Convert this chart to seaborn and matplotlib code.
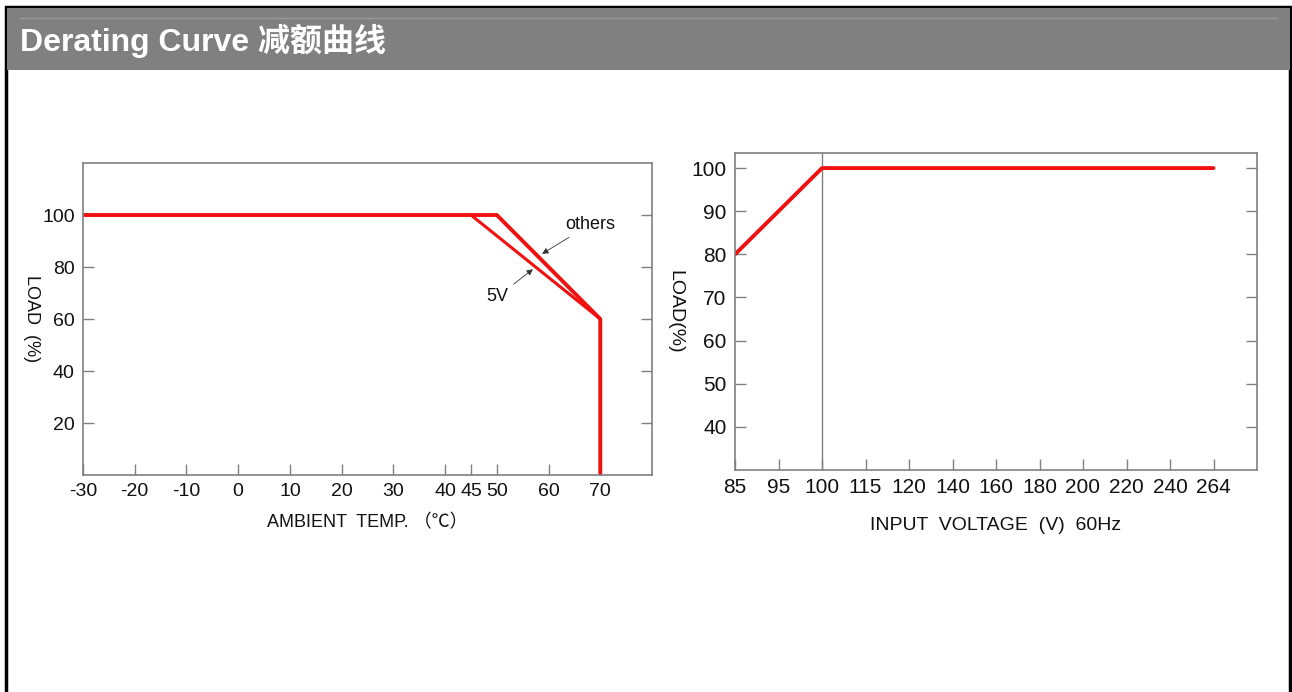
import matplotlib
matplotlib.use("Agg")
import matplotlib.pyplot as plt
import seaborn as sns
import pandas as pd
from matplotlib.patches import Rectangle
from matplotlib.lines import Line2D

# 温度减额数据
temp_others = [-30, 50, 70, 70]
load_others = [100, 100, 60, 0]
temp_5v = [45, 70]
load_5v = [100, 60]
temp_ticks = [-30, -20, -10, 0, 10, 20, 30, 40, 45, 50, 60, 70]
temp_load_ticks = [20, 40, 60, 80, 100]

# 输入电压减额数据 (横轴按刻度等距排布)
volt_labels = ['85', '95', '100', '115', '120', '140', '160', '180', '200', '220', '240', '264']
volt_points = ['85', '100', '264']
volt_load = [80, 100, 100]
volt_load_ticks = [40, 50, 60, 70, 80, 90, 100]

sns.set_theme(style="white")
plt.rcParams['font.family'] = ['Liberation Sans', 'Noto Sans CJK SC', 'DejaVu Sans']
plt.rcParams['text.color'] = '#111111'
plt.rcParams['axes.labelcolor'] = '#111111'

W, H = 1292, 692
fig = plt.figure(figsize=(W / 100, H / 100), dpi=100)

# 边框和标题栏 (底边在画面外)
fig.patches.append(Rectangle((6 / W, -0.05), (1284 / W), 1.05 - 7 / H, transform=fig.transFigure,
                             fill=False, edgecolor='black', linewidth=2.5, zorder=0))
fig.patches.append(Rectangle((7 / W, 1 - 70 / H), 1283 / W, 62 / H, transform=fig.transFigure,
                             facecolor='#808080', edgecolor='none', zorder=1))
fig.lines.append(Line2D([20 / W, 1277 / W], [1 - 18 / H, 1 - 18 / H], transform=fig.transFigure,
                        color='#9a9a9a', linewidth=1, zorder=2))
fig.text(20 / W, 1 - 41 / H, 'Derating Curve 减额曲线', color='white', fontsize=23,
         fontweight='bold', va='center', ha='left',
         family=['Liberation Sans', 'Noto Sans CJK SC'])

spine_c = '#808080'
red = '#f01010'


def style_axes(ax):
    for s in ax.spines.values():
        s.set_color(spine_c)
        s.set_linewidth(1.2)
    ax.tick_params(axis='both', direction='in', length=8, width=1, color=spine_c,
                   labelsize=14, pad=6, labelcolor='#111111')
    ax.tick_params(axis='y', right=True, left=True)
    ax.tick_params(axis='x', bottom=True, top=False)


# 左图: 环境温度
ax1 = fig.add_axes([83 / W, 1 - 475 / H, (652 - 83) / W, (475 - 163) / H])
df_o = pd.DataFrame({'temp': temp_others, 'load': load_others})
df_5 = pd.DataFrame({'temp': temp_5v, 'load': load_5v})
sns.lineplot(data=df_o, x='temp', y='load', sort=False, estimator=None, color=red,
             linewidth=2.8, ax=ax1)
sns.lineplot(data=df_5, x='temp', y='load', sort=False, estimator=None, color=red,
             linewidth=2.2, ax=ax1)
ax1.set_xlim(-30, 80)
ax1.set_ylim(0, 120)
ax1.set_xticks(temp_ticks)
ax1.set_xticklabels([str(t) for t in temp_ticks])
ax1.set_yticks(temp_load_ticks)
style_axes(ax1)
ax1.set_xlabel('AMBIENT  TEMP. （℃）', fontsize=13, labelpad=10)
ax1.set_ylabel('LOAD  (%)', fontsize=13, rotation=270, labelpad=14)
ax1.annotate('others', xy=(58.3, 84.5), xytext=(63.3, 96.5), fontsize=13, va='center', ha='left',
             color='#111111',
             arrowprops=dict(arrowstyle='-|>', color='#333333', lw=0.6, mutation_scale=9))
ax1.annotate('5V', xy=(57.4, 79.8), xytext=(52.2, 68.5), fontsize=13, va='center', ha='right',
             color='#111111',
             arrowprops=dict(arrowstyle='-|>', color='#333333', lw=0.6, mutation_scale=9))

# 右图: 输入电压
ax2 = fig.add_axes([735 / W, 1 - 470 / H, (1257 - 735) / W, (470 - 153) / H])
vpos = [volt_labels.index(v) for v in volt_points]
df_v = pd.DataFrame({'pos': vpos, 'load': volt_load})
ax2.axvline(volt_labels.index('100'), color=spine_c, linewidth=1)
sns.lineplot(data=df_v, x='pos', y='load', sort=False, estimator=None, color=red,
             linewidth=2.8, ax=ax2)
ax2.set_xlim(0, len(volt_labels))
ax2.set_ylim(30, 103.5)
ax2.set_xticks(range(len(volt_labels)))
ax2.set_xticklabels(volt_labels)
ax2.set_yticks(volt_load_ticks)
style_axes(ax2)
ax2.tick_params(axis='x', labelsize=15)
ax2.tick_params(axis='y', labelsize=15)
ax2.set_xlabel('INPUT  VOLTAGE  (V)  60Hz', fontsize=14, labelpad=14)
ax2.set_ylabel('LOAD(%)', fontsize=14, rotation=270, labelpad=18)

fig.savefig('out.png', dpi=100, facecolor='white')
